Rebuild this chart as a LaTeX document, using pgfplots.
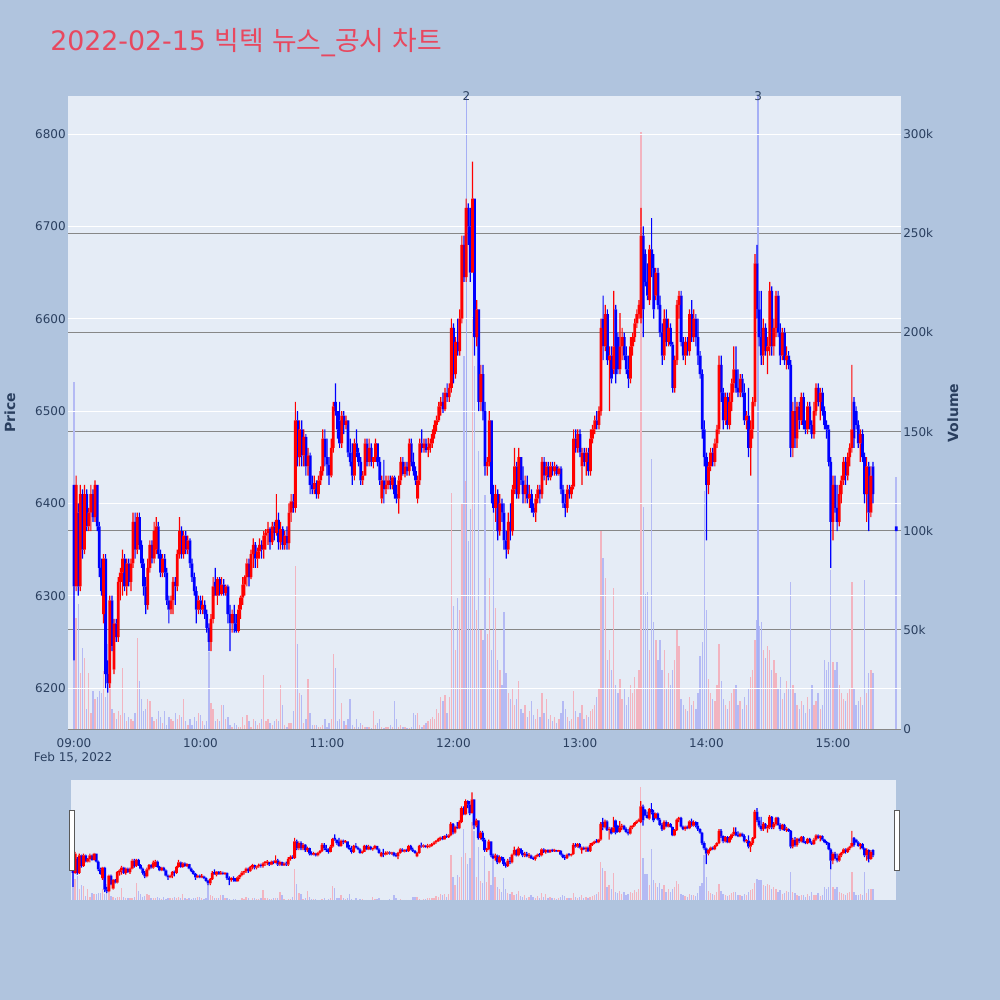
\documentclass[border=0pt]{standalone}
\usepackage{pgfplots}
\pgfplotsset{compat=1.18}
\usepackage{pgfplotstable}
\usepackage{fontspec}
\setmainfont{DejaVu Sans}
\newfontfamily\cjk{Noto Sans CJK KR}
\definecolor{bgc}{RGB}{176,196,222}
\definecolor{plotbg}{RGB}{229,236,246}
\definecolor{tickc}{RGB}{42,63,95}
\definecolor{titlec}{RGB}{232,72,95}
\definecolor{volred}{RGB}{242,180,192}
\definecolor{volblue}{RGB}{180,186,244}
\definecolor{markc}{RGB}{165,175,245}
\definecolor{gridgray}{RGB}{135,135,135}
\definecolor{candred}{RGB}{255,0,0}
\definecolor{candblue}{RGB}{0,0,255}
\newcommand{\tickfont}{\fontsize{9}{10.8}\selectfont}

\pgfplotstableread{
t o h l c v
0 6420 6420 6230 6310 175
1 6310 6430 6305 6420 56
2 6390 6400 6300 6310 63
3 6310 6420 6305 6410 28
4 6410 6415 6340 6350 41
5 6350 6420 6345 6410 36
6 6410 6415 6370 6375 10
7 6375 6395 6370 6390 28
8 6390 6420 6370 6410 8
9 6410 6415 6380 6385 19
10 6385 6425 6380 6420 15
11 6420 6420 6370 6375 16
12 6375 6380 6320 6330 19
13 6330 6340 6300 6305 18
14 6280 6345 6270 6340 29
15 6340 6345 6200 6215 16
16 6215 6230 6195 6205 43
17 6205 6300 6200 6295 35
18 6295 6300 6240 6245 10
19 6220 6275 6215 6270 8
20 6270 6275 6250 6255 5
21 6255 6320 6250 6315 9
22 6315 6330 6295 6325 7
23 6325 6350 6300 6340 31
24 6340 6345 6305 6310 8
25 6310 6340 6300 6335 4
26 6335 6340 6310 6315 6
27 6315 6340 6305 6335 5
28 6335 6390 6330 6380 4
29 6380 6390 6340 6350 8
30 6350 6390 6345 6385 46
31 6385 6390 6350 6355 24
32 6355 6360 6330 6335 15
33 6335 6340 6300 6310 9
34 6310 6320 6280 6290 10
35 6290 6340 6285 6330 15
36 6330 6360 6325 6355 14
37 6355 6360 6335 6340 6
38 6340 6380 6335 6370 4
39 6350 6385 6345 6375 5
40 6375 6380 6340 6345 9
41 6345 6350 6320 6325 6
42 6325 6345 6320 6340 3
43 6340 6345 6320 6325 9
44 6325 6330 6290 6295 2
45 6295 6300 6270 6285 6
46 6285 6300 6280 6295 5
47 6295 6320 6280 6315 4
48 6315 6320 6290 6310 8
49 6310 6350 6305 6345 5
50 6345 6385 6340 6370 7
51 6370 6375 6340 6345 6
52 6345 6370 6340 6365 15
53 6365 6370 6345 6350 4
54 6350 6365 6345 6360 2
55 6360 6362 6330 6335 5
56 6335 6340 6315 6320 2
57 6320 6325 6300 6305 6
58 6305 6310 6270 6285 4
59 6285 6300 6280 6295 8
60 6295 6300 6280 6285 7
61 6285 6300 6280 6290 4
62 6290 6295 6275 6280 2
63 6280 6285 6260 6265 4
64 6265 6270 6240 6250 39
65 6250 6280 6240 6275 13
66 6275 6320 6270 6310 10
67 6315 6330 6300 6300 4
68 6300 6320 6290 6318 5
69 6318 6320 6300 6302 4
70 6302 6320 6300 6312 12
71 6312 6318 6300 6303 12
72 6303 6312 6300 6310 5
73 6310 6312 6270 6280 6
74 6280 6290 6240 6270 2
75 6270 6285 6260 6280 1
76 6280 6290 6260 6270 3
77 6270 6280 6260 6262 2
78 6262 6290 6260 6285 1
79 6285 6300 6275 6298 1
80 6298 6320 6290 6312 6
81 6312 6322 6300 6320 2
82 6320 6340 6310 6335 7
83 6335 6340 6310 6320 4
84 6320 6350 6318 6345 1
85 6345 6362 6330 6355 5
86 6355 6358 6330 6340 4
87 6340 6352 6330 6348 2
88 6348 6362 6340 6355 3
89 6355 6360 6340 6350 5
90 6350 6370 6340 6365 27
91 6365 6372 6350 6368 4
92 6368 6380 6355 6372 5
93 6372 6374 6350 6358 3
94 6358 6380 6355 6375 2
95 6375 6380 6360 6368 4
96 6368 6410 6365 6382 5
97 6382 6390 6350 6358 4
98 6358 6380 6350 6372 22
99 6372 6375 6350 6355 12
100 6355 6370 6350 6365 2
101 6365 6375 6350 6357 1
102 6357 6400 6350 6390 3
103 6390 6410 6380 6402 3
104 6402 6410 6390 6395 9
105 6395 6510 6390 6490 82
106 6490 6500 6440 6450 43
107 6450 6490 6440 6480 18
108 6480 6490 6440 6452 17
109 6452 6480 6440 6472 3
110 6472 6475 6430 6440 5
111 6440 6460 6430 6452 25
112 6452 6455 6410 6420 8
113 6420 6430 6410 6415 2
114 6415 6430 6410 6422 2
115 6422 6425 6405 6410 2
116 6410 6430 6405 6425 1
117 6425 6440 6420 6435 1
118 6435 6480 6430 6470 2
119 6470 6480 6440 6450 5
120 6450 6470 6430 6442 1
121 6442 6450 6420 6430 3
122 6430 6470 6428 6460 5
123 6460 6510 6455 6505 38
124 6510 6530 6495 6500 31
125 6500 6500 6470 6480 4
126 6490 6510 6460 6465 5
127 6465 6500 6460 6495 13
128 6495 6500 6475 6485 4
129 6485 6495 6480 6490 2
130 6490 6490 6450 6455 5
131 6455 6470 6440 6445 15
132 6445 6465 6420 6430 2
133 6430 6470 6425 6465 1
134 6465 6480 6450 6455 5
135 6455 6460 6440 6445 1
136 6445 6450 6420 6425 3
137 6425 6435 6420 6430 2
138 6430 6470 6430 6465 1
139 6465 6470 6440 6445 1
140 6445 6470 6440 6460 1
141 6460 6465 6440 6445 0.5
142 6445 6450 6438 6450 9
143 6450 6470 6445 6465 2
144 6465 6465 6440 6445 3
145 6445 6450 6420 6425 5
146 6405 6430 6400 6425 1
147 6425 6447 6400 6415 0.5
148 6415 6430 6410 6420 1
149 6420 6430 6415 6425 1
150 6425 6430 6415 6420 2
151 6420 6430 6415 6428 1
152 6428 6430 6405 6410 14
153 6410 6420 6400 6405 5
154 6405 6430 6389 6425 1
155 6425 6450 6420 6445 2
156 6445 6450 6430 6432 1
157 6432 6445 6428 6440 1
158 6440 6445 6430 6435 0.5
159 6435 6470 6430 6465 0.5
160 6465 6470 6440 6445 1
161 6445 6455 6430 6435 8
162 6435 6440 6420 6425 7
163 6405 6430 6400 6425 8
164 6425 6470 6420 6465 2
165 6465 6480 6455 6460 1
166 6460 6470 6455 6465 2
167 6465 6470 6455 6458 3
168 6458 6470 6450 6460 4
169 6460 6470 6455 6465 5
170 6465 6480 6460 6475 6
171 6475 6490 6470 6485 5
172 6485 6495 6478 6490 10
173 6490 6510 6488 6505 8
174 6505 6515 6495 6510 16
175 6510 6520 6498 6502 14
176 6502 6525 6500 6520 17
177 6520 6530 6510 6515 8
178 6515 6530 6510 6525 16
179 6525 6600 6520 6590 119
180 6590 6595 6530 6540 62
181 6540 6580 6535 6575 40
182 6575 6600 6560 6565 66
183 6565 6610 6560 6600 60
184 6600 6690 6595 6680 114
185 6680 6690 6640 6645 188
186 6645 6730 6640 6720 125
187 6720 6725 6680 6700 95
188 6700 6720 6640 6650 111
189 6650 6770 6650 6730 208
190 6730 6730 6560 6580 183
191 6580 6620 6570 6610 60
192 6610 6610 6500 6510 140
193 6510 6550 6500 6540 50
194 6540 6550 6490 6500 45
195 6500 6510 6430 6440 118
196 6440 6450 6430 6445 48
197 6445 6500 6440 6490 76
198 6490 6490 6400 6410 40
199 6410 6420 6390 6395 111
200 6395 6420 6380 6410 61
201 6410 6415 6360 6370 35
202 6370 6410 6365 6400 30
203 6400 6405 6380 6390 22
204 6390 6400 6350 6360 59
205 6360 6370 6340 6350 28
206 6350 6390 6345 6380 18
207 6380 6400 6360 6370 15
208 6370 6420 6365 6415 20
209 6415 6460 6410 6440 12
210 6440 6445 6405 6410 15
211 6410 6460 6405 6450 24
212 6450 6450 6420 6425 10
213 6425 6440 6400 6410 8
214 6410 6430 6400 6420 12
215 6420 6430 6400 6405 6
216 6405 6420 6395 6410 9
217 6410 6415 6390 6395 14
218 6395 6400 6385 6390 7
219 6390 6410 6380 6405 5
220 6405 6420 6400 6415 10
221 6415 6420 6400 6410 6
222 6410 6450 6405 6445 18
223 6445 6450 6425 6430 8
224 6430 6445 6420 6440 15
225 6440 6445 6425 6428 5
226 6428 6445 6425 6440 7
227 6440 6445 6430 6435 4
228 6435 6445 6430 6440 6
229 6440 6442 6430 6432 3
230 6432 6440 6430 6438 5
231 6438 6440 6410 6415 8
232 6415 6420 6395 6400 14
233 6400 6410 6385 6395 10
234 6395 6420 6390 6415 6
235 6415 6420 6405 6410 4
236 6410 6420 6405 6418 5
237 6418 6480 6415 6470 19
238 6470 6480 6455 6460 9
239 6460 6480 6455 6475 6
240 6475 6480 6450 6455 8
241 6440 6460 6420 6455 12
242 6455 6460 6440 6445 5
243 6445 6460 6430 6455 7
244 6455 6460 6430 6435 6
245 6435 6480 6430 6470 9
246 6470 6485 6465 6480 10
247 6480 6495 6475 6490 12
248 6490 6500 6480 6485 16
249 6485 6505 6480 6500 20
250 6500 6600 6495 6590 100
251 6600 6625 6555 6570 86
252 6570 6615 6565 6605 76
253 6605 6610 6550 6555 35
254 6555 6570 6500 6560 40
255 6560 6570 6530 6535 30
256 6545 6630 6540 6570 71
257 6610 6615 6530 6540 22
258 6580 6585 6540 6545 18
259 6545 6606 6540 6570 25
260 6570 6590 6555 6580 15
261 6580 6585 6555 6560 20
262 6560 6570 6540 6545 12
263 6545 6560 6525 6535 16
264 6535 6580 6530 6570 22
265 6570 6585 6560 6580 18
266 6580 6600 6575 6595 26
267 6595 6610 6590 6605 20
268 6605 6620 6600 6615 30
269 6600 6720 6595 6690 301
270 6690 6700 6580 6610 112
271 6670 6675 6635 6640 68
272 6640 6660 6620 6625 69
273 6620 6680 6615 6675 40
274 6675 6709 6645 6655 136
275 6655 6670 6600 6610 54
276 6625 6655 6620 6650 45
277 6650 6655 6610 6615 35
278 6615 6625 6580 6585 45
279 6585 6595 6550 6560 30
280 6560 6610 6555 6600 40
281 6600 6610 6570 6575 20
282 6575 6600 6570 6590 28
283 6590 6595 6570 6572 22
284 6572 6575 6520 6525 30
285 6525 6560 6520 6555 35
286 6555 6620 6550 6615 50
287 6615 6630 6600 6625 42
288 6625 6630 6570 6575 15
289 6575 6580 6555 6560 12
290 6560 6580 6550 6575 10
291 6575 6580 6560 6565 9
292 6565 6610 6560 6605 16
293 6605 6620 6575 6580 12
294 6580 6610 6575 6600 14
295 6600 6605 6570 6580 10
296 6580 6600 6550 6560 18
297 6560 6565 6535 6540 37
298 6540 6545 6470 6480 44
299 6480 6490 6440 6450 120
300 6450 6455 6360 6420 60
301 6420 6445 6410 6440 25
302 6440 6460 6435 6455 18
303 6455 6460 6440 6445 15
304 6445 6470 6440 6465 14
305 6465 6485 6460 6480 22
306 6480 6560 6475 6550 43
307 6550 6560 6510 6520 24
308 6520 6525 6480 6490 15
309 6490 6520 6485 6515 12
310 6515 6520 6480 6485 10
311 6485 6520 6480 6510 14
312 6510 6535 6500 6530 18
313 6530 6570 6520 6545 20
314 6545 6570 6520 6525 22
315 6525 6545 6515 6520 12
316 6520 6540 6515 6535 14
317 6535 6540 6515 6520 10
318 6520 6530 6485 6490 16
319 6490 6500 6480 6495 12
320 6495 6525 6450 6460 20
321 6460 6490 6430 6480 26
322 6480 6515 6470 6510 30
323 6510 6670 6505 6660 45
324 6660 6680 6600 6610 55
325 6610 6630 6570 6580 52
326 6580 6630 6550 6560 54
327 6560 6600 6550 6590 40
328 6590 6595 6560 6565 36
329 6565 6580 6540 6570 42
330 6570 6640 6560 6630 40
331 6630 6635 6560 6570 30
332 6570 6600 6560 6590 35
333 6590 6630 6580 6625 28
334 6625 6630 6580 6585 20
335 6585 6595 6550 6560 26
336 6560 6590 6555 6585 15
337 6585 6590 6550 6555 18
338 6555 6570 6545 6560 24
339 6560 6565 6545 6550 20
340 6550 6555 6450 6460 74
341 6460 6510 6450 6500 22
342 6500 6515 6460 6470 18
343 6470 6510 6460 6505 12
344 6505 6510 6480 6490 10
345 6490 6520 6485 6515 14
346 6515 6520 6480 6485 12
347 6485 6490 6475 6480 8
348 6480 6510 6475 6505 16
349 6505 6510 6480 6485 10
350 6485 6490 6470 6475 22
351 6475 6510 6470 6500 12
352 6500 6530 6495 6525 14
353 6525 6530 6505 6510 18
354 6510 6525 6490 6520 10
355 6520 6525 6495 6500 12
356 6500 6505 6480 6485 35
357 6485 6490 6470 6480 30
358 6480 6485 6440 6445 34
359 6445 6450 6330 6380 80
360 6380 6430 6360 6420 34
361 6420 6430 6390 6395 30
362 6395 6420 6370 6380 34
363 6380 6420 6375 6410 22
364 6410 6430 6400 6425 18
365 6425 6450 6420 6445 15
366 6445 6450 6420 6430 14
367 6430 6455 6425 6450 18
368 6450 6465 6440 6460 20
369 6460 6550 6455 6480 74
370 6510 6515 6460 6470 20
371 6500 6505 6480 6485 12
372 6485 6490 6460 6465 14
373 6465 6480 6445 6475 16
374 6475 6480 6445 6450 12
375 6450 6455 6400 6410 75
376 6410 6450 6380 6440 18
377 6440 6445 6370 6390 28
378 6390 6440 6385 6430 30
379 6440 6445 6400 6410 28
390 6375 6375 6370 6370 127
}\data

\pgfplotsset{
  upsel/.style={restrict expr to domain={\thisrow{c}-\thisrow{o}}{0:100000}},
  dnsel/.style={restrict expr to domain={\thisrow{c}-\thisrow{o}}{-100000:-0.001}},
  plain/.style={axis line style={draw=none}, major tick length=0pt, clip mode=individual,
    scale only axis, anchor=south west, enlargelimits=false},
  wk/.style={draw=none, fill=#1, bar width=0.9pt},
  bd/.style={draw=none, fill=#1, bar width=2.1pt},
}

\begin{document}
\begin{tikzpicture}[x=1pt,y=1pt]
\fill[bgc] (0,0) rectangle (750,750);
\path[use as bounding box] (0,0) rectangle (750,750);

% ---------- main chart: volume layer ----------
\begin{axis}[plain, at={(51pt,203.25pt)}, width=624.75pt, height=474.75pt,
  xmin=-2.85, xmax=392.3, ymin=0, ymax=319.2,
  axis background/.style={fill=plotbg},
  xtick=\empty,
  ytick={0,50,100,150,200,250,300},
  yticklabels={0,50k,100k,150k,200k,250k,300k},
  ytick pos=right, yticklabel pos=right,
  ymajorgrids, grid style={gridgray, line width=0.6pt},
  yticklabel style={font=\tickfont, text=tickc, inner sep=1.5pt},
]
\addplot[upsel, ycomb, volred, line width=1pt] table[x=t,y=v]{\data};
\addplot[dnsel, ycomb, volblue, line width=1pt] table[x=t,y=v]{\data};
\draw[markc, line width=1.1pt] (axis cs:186.2,0) -- (axis cs:186.2,319.2);
\draw[markc, line width=1.1pt] (axis cs:324.5,0) -- (axis cs:324.5,319.2);
\end{axis}

% ---------- main chart: price layer ----------
\begin{axis}[plain, at={(51pt,203.25pt)}, width=624.75pt, height=474.75pt,
  xmin=-2.85, xmax=392.3, ymin=6155.6, ymax=6841.2,
  ybar stacked,
  xtick={0,60,120,180,240,300,360},
  xticklabels={09:00,10:00,11:00,12:00,13:00,14:00,15:00},
  ytick={6200,6300,6400,6500,6600,6700,6800},
  yticklabels={6200,6300,6400,6500,6600,6700,6800},
  ytick pos=left,
  ymajorgrids, grid style={white, line width=0.75pt},
  yticklabel style={font=\tickfont, text=tickc, inner sep=1.5pt},
  xticklabel style={font=\tickfont, text=tickc, yshift=-3.5pt},
  /pgf/number format/assume math mode=true,
]
\addplot[draw=none, fill=none, bar width=0.9pt] table[x=t, y=l]{\data};
\addplot[wk=candred] table[x=t, y expr={ifthenelse(\thisrow{c}>=\thisrow{o}, \thisrow{o}-\thisrow{l}, 0)}]{\data};
\addplot[wk=candblue] table[x=t, y expr={ifthenelse(\thisrow{c}<\thisrow{o}, \thisrow{c}-\thisrow{l}, 0)}]{\data};
\addplot[bd=candred] table[x=t, y expr={ifthenelse(\thisrow{c}>=\thisrow{o}, max(\thisrow{c}-\thisrow{o},3), 0)}]{\data};
\addplot[bd=candblue] table[x=t, y expr={ifthenelse(\thisrow{c}<\thisrow{o}, max(\thisrow{o}-\thisrow{c},3), 0)}]{\data};
\addplot[wk=candred] table[x=t, y expr={ifthenelse(\thisrow{c}>=\thisrow{o}, \thisrow{h}-\thisrow{c}, 0)}]{\data};
\addplot[wk=candblue] table[x=t, y expr={ifthenelse(\thisrow{c}<\thisrow{o}, \thisrow{h}-\thisrow{o}, 0)}]{\data};
\node[font=\tickfont, text=tickc, inner sep=0pt] at (axis cs:186.2,6841.2) {2};
\node[font=\tickfont, text=tickc, inner sep=0pt] at (axis cs:324.5,6841.2) {3};
\end{axis}

% ---------- range slider ----------
\begin{axis}[plain, at={(53.25pt,75pt)}, width=618.75pt, height=90pt,
  xmin=-0.95, xmax=389.9, ymin=0, ymax=319.2,
  axis background/.style={fill=plotbg},
  xtick=\empty, ytick=\empty, clip mode=global,
]
\addplot[upsel, ycomb, volred, line width=1pt] table[x=t,y=v]{\data};
\addplot[dnsel, ycomb, volblue, line width=1pt] table[x=t,y=v]{\data};
\end{axis}
\begin{axis}[plain, at={(53.25pt,75pt)}, width=618.75pt, height=90pt,
  xmin=-0.95, xmax=389.9, ymin=6155.6, ymax=6841.2,
  ybar stacked,
  xtick=\empty, ytick=\empty, clip mode=global,
]
\addplot[draw=none, fill=none, bar width=0.9pt] table[x=t, y=l]{\data};
\addplot[wk=candred] table[x=t, y expr={ifthenelse(\thisrow{c}>=\thisrow{o}, \thisrow{o}-\thisrow{l}, 0)}]{\data};
\addplot[wk=candblue] table[x=t, y expr={ifthenelse(\thisrow{c}<\thisrow{o}, \thisrow{c}-\thisrow{l}, 0)}]{\data};
\addplot[bd=candred] table[x=t, y expr={ifthenelse(\thisrow{c}>=\thisrow{o}, max(\thisrow{c}-\thisrow{o},8), 0)}]{\data};
\addplot[bd=candblue] table[x=t, y expr={ifthenelse(\thisrow{c}<\thisrow{o}, max(\thisrow{o}-\thisrow{c},8), 0)}]{\data};
\addplot[wk=candred] table[x=t, y expr={ifthenelse(\thisrow{c}>=\thisrow{o}, \thisrow{h}-\thisrow{c}, 0)}]{\data};
\addplot[wk=candblue] table[x=t, y expr={ifthenelse(\thisrow{c}<\thisrow{o}, \thisrow{h}-\thisrow{o}, 0)}]{\data};
\end{axis}
% slider handles
\filldraw[fill=white, draw=gray!70!black, line width=0.5pt] (52.3,97) rectangle (55.5,142.5);
\filldraw[fill=white, draw=gray!70!black, line width=0.5pt] (671,97) rectangle (674.7,142.5);

% ---------- texts ----------
\node[anchor=base west, inner sep=0pt, text=titlec, font=\fontsize{20.1}{24}\selectfont] at (37.5,712) {2022-02-15 {\cjk 빅텍} {\cjk 뉴스}\_{\cjk 공시} {\cjk 차트}};
\node[anchor=base, inner sep=0pt, text=tickc, font=\tickfont] at (54.75,178.5) {Feb 15, 2022};
\node[rotate=90, text=tickc, font=\fontsize{10.5}{12}\bfseries] at (7.5,440.25) {Price};
\node[rotate=90, text=tickc, font=\fontsize{10.5}{12}\bfseries] at (714.75,440.25) {Volume};
\end{tikzpicture}
\end{document}
